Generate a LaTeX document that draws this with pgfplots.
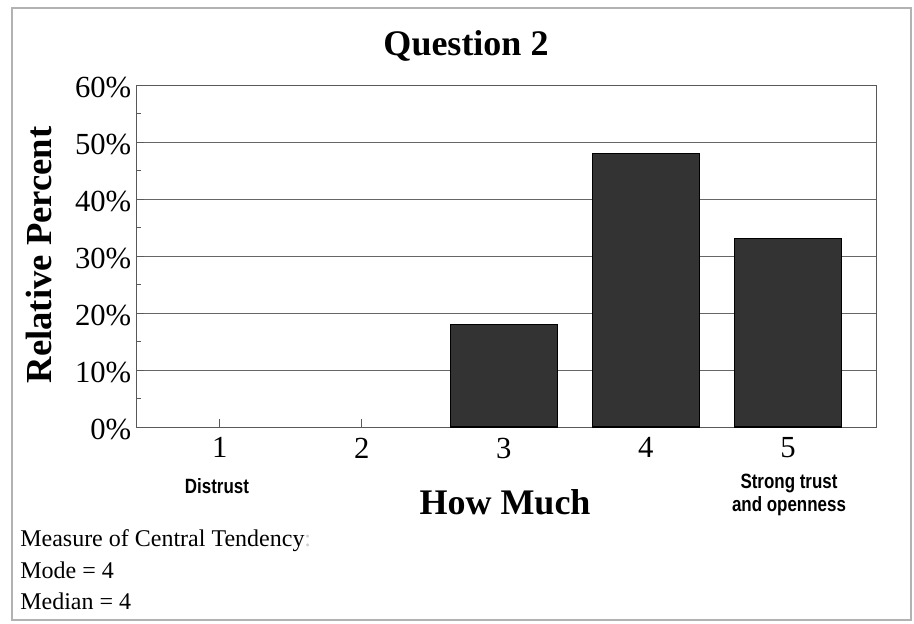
\documentclass[border=0pt]{standalone}
\usepackage{pgfplots}
\pgfplotsset{compat=1.18}
\usepackage{fontspec}
\setmainfont{Liberation Serif}
\newfontfamily\narrowsans{Liberation Sans}[FakeStretch=0.82]
\begin{document}
\begin{tikzpicture}
\path[use as bounding box] (0,0) rectangle (685.5pt,-468pt);
\draw[gray!60, line width=0.8pt] (9pt,-6pt) rectangle (683.25pt,-465pt);
\begin{axis}[
  at={(102pt,-320.25pt)}, anchor=south west,
  scale only axis, width=555pt, height=256.5pt,
  xmin=0.41, xmax=5.62, ymin=0, ymax=60,
  ybar, bar width=0.75, bar shift=0pt,
  xtick={1,2,3,4,5}, xticklabels={1,2,3,4,5},
  ytick={0,10,...,60}, yticklabels={0\%,10\%,20\%,30\%,40\%,50\%,60\%},
  minor y tick num=1,
  tick align=inside, tick pos=left,
  major tick length=6pt, minor tick length=4pt,
  ymajorgrids, grid style={black!60, line width=0.6pt},
  axis line style={black!65, line width=0.6pt},
  tick style={black!65, line width=0.6pt},
  ticklabel style={font=\fontsize{23}{23}\selectfont},
  /pgf/number format/assume math mode=true,
  xticklabel style={yshift=-4.5pt},
  yticklabel style={yshift=-2pt},
]
% categories 1 and 2 are 0%, so they have no visible bar
\addplot[draw=black, fill=black!80, line width=0.8pt] coordinates {(3,18) (4,48) (5,33)};
\end{axis}
\node[font=\bfseries\fontsize{27}{27}\selectfont, anchor=base] at (349.5pt,-42pt) {Question 2};
\node[font=\bfseries\fontsize{27.5}{27}\selectfont, anchor=base, rotate=90] at (38.25pt,-191.25pt) {Relative Percent};
\node[font=\bfseries\fontsize{27}{27}\selectfont, anchor=base] at (378.75pt,-385.5pt) {How Much};
\node[font=\narrowsans\bfseries\fontsize{15.5}{17}\selectfont, anchor=base] at (162.75pt,-369.75pt) {Distrust};
\node[font=\narrowsans\bfseries\fontsize{15.5}{17}\selectfont, anchor=base] at (591.75pt,-366pt) {Strong trust};
\node[font=\narrowsans\bfseries\fontsize{15.5}{17}\selectfont, anchor=base] at (591.75pt,-383.25pt) {and openness};
\node[font=\fontsize{18}{20}\selectfont, anchor=base west, inner sep=0pt] at (15pt,-409.5pt) {Measure of Central Tendency{\color{gray!40}:}};
\node[font=\fontsize{18}{20}\selectfont, anchor=base west, inner sep=0pt] at (15pt,-433.5pt) {Mode = 4};
\node[font=\fontsize{18}{20}\selectfont, anchor=base west, inner sep=0pt] at (15pt,-456.75pt) {Median = 4};
\end{tikzpicture}
\end{document}
